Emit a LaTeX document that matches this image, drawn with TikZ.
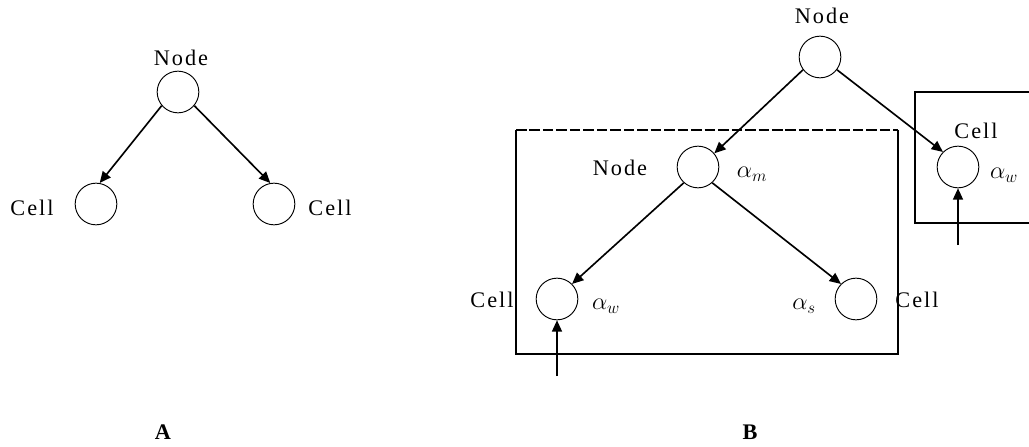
\documentclass[tikz,border=0pt]{standalone}
\usepackage{fontspec}
\setmainfont{Liberation Serif}
\newfontfamily\spacedfont[LetterSpace=9]{Liberation Serif}
\usetikzlibrary{positioning,arrows.meta}

\tikzset{
  unit/.style={circle, draw, line width=0.8pt, minimum size=1.25cm, inner sep=0pt},
  lbl/.style={font=\spacedfont\fontsize{19}{22}\selectfont, inner sep=1pt},
  wgt/.style={font=\fontsize{21}{24}\selectfont, inner sep=1pt},
  link/.style={-{Triangle[length=3.4mm,width=3mm]}, line width=1.4pt},
  frame/.style={line width=1.6pt},
}

\begin{document}
\begin{tikzpicture}[x=0.03cm, y=-0.03cm]
  \useasboundingbox (0,0) rectangle (1029,447);

  % panel A
  \node[unit] (aroot)  at (178,92)  {};
  \node[unit] (aleft)  at (96,204)  {};
  \node[unit] (aright) at (274,204) {};
  \node[lbl] (arootlbl)  at (181,58)  {Node};
  \node[lbl] (aleftlbl)  at (32,208)  {Cell};
  \node[lbl] (arightlbl) at (330,208) {Cell};
  \draw[link] (aroot.220) -- (aleft.80);
  \draw[link] (aroot.320) -- (aright.100);
  \node[font=\bfseries\fontsize{19}{22}\selectfont] (capA) at (163,432) {A};

  % panel B
  \draw[frame] (516,130) -- (516,354) -- (898,354) -- (898,130);
  \draw[line width=1.1pt, dash pattern=on 9pt off 2.5pt] (516,130) -- (898,130);
  \draw[frame] (1029,92) -- (915,92) -- (915,223) -- (1029,223);

  \node[unit] (broot)  at (820,57)  {};
  \node[unit] (bnode)  at (698,167) {};
  \node[unit] (bleft)  at (557,299) {};
  \node[unit] (bright) at (856,299) {};
  \node[unit] (bcell)  at (958,167) {};

  \node[lbl] (brootlbl)  at (822,16)  {Node};
  \node[lbl] (bnodelbl)  at (620,168) {Node};
  \node[wgt] (bnodewgt)  at (752,174) {$\alpha_m$};
  \node[lbl] (bleftlbl)  at (492,300) {Cell};
  \node[wgt] (bleftwgt)  at (606,306) {$\alpha_w$};
  \node[wgt] (brightwgt) at (804,306) {$\alpha_s$};
  \node[lbl] (brightlbl) at (917,300) {Cell};
  \node[lbl] (bcelllbl)  at (976,131) {Cell};
  \node[wgt] (bcellwgt)  at (1004,175) {$\alpha_w$};

  \coordinate (inleft) at (557,376);
  \coordinate (incell) at (958,245);

  \draw[link] (broot.217) -- (bnode.40);
  \draw[link] (broot.323) -- (bcell.135);
  \draw[link] (bnode.228) -- (bleft.45);
  \draw[link] (bnode.312) -- (bright.135);
  \draw[link] (inleft) -- (bleft.south);
  \draw[link] (incell) -- (bcell.south);

  \node[font=\bfseries\fontsize{19}{22}\selectfont] (capB) at (750,432) {B};
\end{tikzpicture}
\end{document}
